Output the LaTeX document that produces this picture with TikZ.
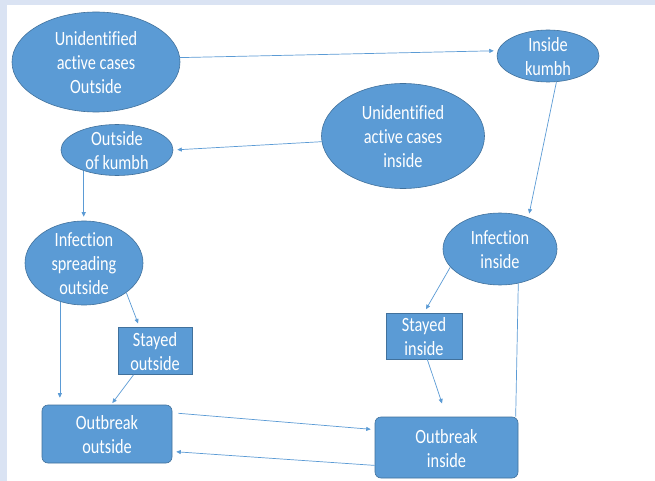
\documentclass[tikz,border=0pt]{standalone}
\usepackage{fontspec}
\setmainfont{Carlito}[Ligatures=NoCommon]
\usepackage{graphicx}
\usetikzlibrary{shapes.geometric,arrows.meta}
\definecolor{shapefill}{HTML}{5B9BD5}
\definecolor{shapeline}{HTML}{41719C}
\definecolor{linkcol}{HTML}{5B9BD5}
\definecolor{pageband}{HTML}{DAE3F3}
% centred multi-line label, slightly stretched upwards
\newcommand\lbl[1]{\scalebox{1}[1.24]{\begin{tabular}{@{}c@{}}#1\end{tabular}}}

\begin{document}
\begin{tikzpicture}[x=1pt,y=-1pt,
  lbltext/.style={text=white, font=\fontsize{16.3}{19.4}\selectfont, inner sep=0pt, yshift=-3pt},
  oval/.style={ellipse, fill=shapefill, draw=shapeline, line width=0.6pt, inner sep=0pt},
  box/.style={rectangle, fill=shapefill, draw=shapeline, line width=0.6pt, inner sep=0pt},
  roundbox/.style={box, rounded corners=6pt},
  link/.style={draw=linkcol, line width=0.7pt, -{Triangle[length=4.5pt,width=4pt]}, shorten >=4pt},
  plain link/.style={draw=linkcol, line width=0.7pt}
]
% page
\fill[pageband] (0,0) rectangle (655,481);
\fill[white] (7,5) rectangle (655,481);
\useasboundingbox (0,0) rectangle (655,481);

% states
\node[oval, minimum width=168pt, minimum height=100pt,
  label={[lbltext]center:{\lbl{Unidentified\\active cases\\Outside}}}] (A) at (96,62) {};
\node[oval, minimum width=102pt, minimum height=52pt,
  label={[lbltext]center:{\lbl{Inside\\kumbh}}}] (B) at (548,56) {};
\node[oval, minimum width=163pt, minimum height=105pt,
  label={[lbltext]center:{\lbl{Unidentified\\active cases\\inside}}}] (C) at (403,136) {};
\node[oval, minimum width=112pt, minimum height=51pt,
  label={[lbltext]center:{\lbl{Outside\\of kumbh}}}] (D) at (117,150) {};
\node[oval, minimum width=118pt, minimum height=84pt,
  label={[lbltext]center:{\lbl{Infection\\spreading\\outside}}}] (E) at (84,263) {};
\node[oval, minimum width=114pt, minimum height=72pt,
  label={[lbltext]center:{\lbl{Infection\\inside}}}] (F) at (500,249) {};
\node[box, minimum width=74pt, minimum height=47pt,
  label={[lbltext]center:{\lbl{Stayed\\outside}}}] (G) at (155,351) {};
\node[box, minimum width=76pt, minimum height=46pt,
  label={[lbltext]center:{\lbl{Stayed\\inside}}}] (H) at (424,336) {};
\node[roundbox, minimum width=130pt, minimum height=58pt,
  label={[lbltext]center:{\lbl{Outbreak\\outside}}}] (I) at (107,434) {};
\node[roundbox, minimum width=143pt, minimum height=61pt,
  label={[lbltext]center:{\lbl{Outbreak\\inside}}}] (J) at (446.5,447.5) {};

% transitions
\draw[link] (A.3) -- (B.174);
\draw[link] (C.184) -- (D.east);
\draw[link] (B.-72) -- (F.48);
\draw[link] (D.-148) -- (D.-148 |- E.north);
\draw[link, shorten >=7pt] (E.-122) -- (E.-122 |- I.north);
\draw[link] (E.-35) -- (G.123);
\draw[link, shorten >=2pt] (G.-132) -- (I.82);
\draw[link] (F.-160) -- (H.north);
\draw[link, shorten >=14pt] (H.-82) -- (J.north);
\draw[link, shorten <=6pt] (I.18) -- (J.166);
\draw[link] (J.-166) -- (I.-15.5);
\draw[plain link] (F.-62) -- (J.24.6);
\end{tikzpicture}
\end{document}
